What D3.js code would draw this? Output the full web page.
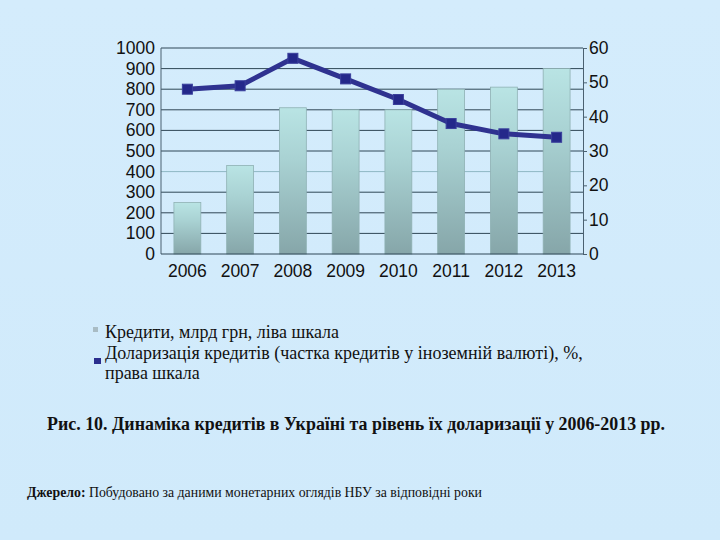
<!DOCTYPE html>
<html><head><meta charset="utf-8">
<script src="https://cdn.jsdelivr.net/npm/d3@7/dist/d3.min.js"></script>
<style>html,body{margin:0;padding:0;background:#d2ebfb;}svg{display:block;}</style>
</head><body><svg id="c" width="720" height="540"></svg>
<script>
const years = ["2006","2007","2008","2009","2010","2011","2012","2013"];
const credits = [250, 430, 710, 700, 700, 800, 810, 900];
const dollarization = [48, 49, 57, 51, 45, 38, 35, 34];
const leftTicks = [0,100,200,300,400,500,600,700,800,900,1000];
const rightTicks = [0,10,20,30,40,50,60];
const legendLabels = ["Кредити, млрд грн, ліва шкала",
  "Доларизація кредитів (частка кредитів у іноземній валюті), %,",
  "права шкала"];
const captionText = "Рис. 10. Динаміка кредитів в Україні та рівень їх доларизації у 2006-2013 рр.";
const sourceBold = "Джерело:";
const sourceText = " Побудовано за даними монетарних оглядів НБУ за відповідні роки";

const svg = d3.select("#c");
const L = 161, R = 583, T = 48, B = 254;

const defs = svg.append("defs");
const bg = defs.append("linearGradient").attr("id","bg").attr("x1",0).attr("y1",0).attr("x2",0).attr("y2",1);
bg.append("stop").attr("offset","0%").attr("stop-color","#d4ecfc");
bg.append("stop").attr("offset","100%").attr("stop-color","#d0eafb");
svg.append("rect").attr("width",720).attr("height",540).attr("fill","url(#bg)");

const bgGrad = defs.append("linearGradient").attr("id","bar").attr("x1",0).attr("y1",0).attr("x2",0).attr("y2",1);
bgGrad.append("stop").attr("offset","0%").attr("stop-color","#b9e4e4");
bgGrad.append("stop").attr("offset","35%").attr("stop-color","#a9d2d3");
bgGrad.append("stop").attr("offset","100%").attr("stop-color","#86a6a9");

const x = d3.scaleBand().domain(years).range([L,R]).paddingInner(0.49).paddingOuter(0.245);
const yL = d3.scaleLinear().domain([0,1000]).range([B,T]);
const yR = d3.scaleLinear().domain([0,60]).range([B,T]);

const sans = "Liberation Sans, Arial, sans-serif";
const axFont = 17.5;

// gridlines
svg.append("g").selectAll("line").data(leftTicks.filter(d=>d>0)).join("line")
  .attr("x1",L).attr("x2",R).attr("y1",d=>yL(d)).attr("y2",d=>yL(d))
  .attr("stroke",d=>d===400?"#8fb8c4":"#2f4756").attr("stroke-width",1);

// bars
svg.append("g").selectAll("rect").data(years).join("rect")
  .attr("x",d=>x(d)).attr("width",x.bandwidth())
  .attr("y",(d,i)=>yL(credits[i])).attr("height",(d,i)=>B-yL(credits[i]))
  .attr("fill","url(#bar)").attr("stroke","#8fb1b3").attr("stroke-width",0.8);

// axes lines
svg.append("line").attr("x1",L).attr("x2",L).attr("y1",T).attr("y2",B).attr("stroke","#4a6070");
svg.append("line").attr("x1",L).attr("x2",R).attr("y1",B).attr("y2",B).attr("stroke","#2f4756");

// left labels
svg.append("g").selectAll("text").data(leftTicks).join("text")
  .attr("x",155).attr("y",d=>yL(d)+6).attr("text-anchor","end")
  .attr("font-family",sans).attr("font-size",axFont).attr("fill","#111")
  .text(d=>d);

// right axis
const rAxis = d3.axisRight(yR).tickValues(rightTicks).tickSize(4).tickPadding(2);
const rg = svg.append("g").attr("transform",`translate(${R},0)`).call(rAxis);
rg.select(".domain").attr("stroke","#4a6070");
rg.selectAll(".tick line").attr("stroke","#4a6070");
rg.selectAll(".tick text").attr("font-family",sans).attr("font-size",axFont).attr("fill","#111");

// x labels
svg.append("g").selectAll("text").data(years).join("text")
  .attr("x",d=>x(d)+x.bandwidth()/2).attr("y",277).attr("text-anchor","middle")
  .attr("font-family",sans).attr("font-size",axFont).attr("fill","#111")
  .text(d=>d);

// line
const line = d3.line().x((d,i)=>x(years[i])+x.bandwidth()/2).y(d=>yR(d));
svg.append("path").datum(dollarization).attr("d",line).attr("fill","none")
  .attr("stroke","#2f3290").attr("stroke-width",5).attr("stroke-linejoin","round");
svg.append("g").selectAll("rect").data(dollarization).join("rect")
  .attr("x",(d,i)=>x(years[i])+x.bandwidth()/2-5).attr("y",d=>yR(d)-5)
  .attr("width",10).attr("height",10).attr("fill","#24288a").attr("stroke","#3a3f9c").attr("stroke-width",1);

// legend
const serif = "Liberation Serif, Times New Roman, serif";
svg.append("rect").attr("x",93).attr("y",327).attr("width",5).attr("height",5).attr("fill","#a9bcc4");
svg.append("rect").attr("x",94).attr("y",358).attr("width",7).attr("height",6).attr("fill","#2a2e8e");
svg.append("g").selectAll("text").data(legendLabels).join("text")
  .attr("x",105).attr("y",(d,i)=>338+i*20.5)
  .attr("font-family",serif).attr("font-size",18).attr("fill","#111")
  .text(d=>d);

// caption
svg.append("text").attr("x",47).attr("y",430).attr("font-family",serif).attr("font-size",18)
  .attr("font-weight","bold").attr("fill","#111")
  .attr("textLength",618).attr("lengthAdjust","spacingAndGlyphs").text(captionText);

// source
const st = svg.append("text").attr("x",27).attr("y",497).attr("font-family",serif).attr("font-size",14)
  .attr("fill","#111").attr("textLength",455).attr("lengthAdjust","spacingAndGlyphs");
st.append("tspan").attr("font-weight","bold").text(sourceBold);
st.append("tspan").text(sourceText);
</script></body></html>
